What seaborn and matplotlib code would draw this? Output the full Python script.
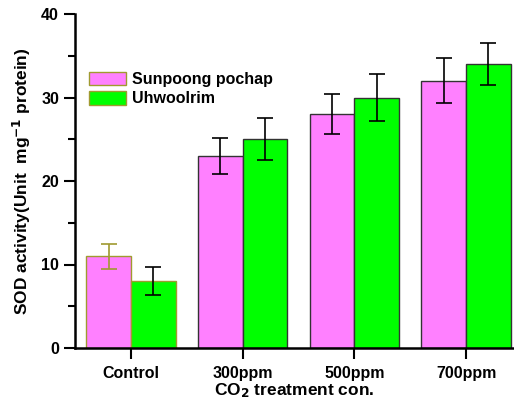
import pandas as pd
import seaborn as sns
import matplotlib.pyplot as plt
from matplotlib.ticker import MultipleLocator

# данные
treatments = ['Control', '300ppm', '500ppm', '700ppm']
cultivars = ['Sunpoong pochap', 'Uhwoolrim']
sunpoong = [11, 23, 28, 32]
uhwoolrim = [8, 25, 30, 34]
sunpoong_err = [1.5, 2.2, 2.4, 2.7]
uhwoolrim_err = [1.7, 2.5, 2.8, 2.5]
colors = ['#FF80FF', '#00FF00']

df = pd.DataFrame({
    'treatment': treatments * 2,
    'cultivar': [cultivars[0]] * 4 + [cultivars[1]] * 4,
    'sod': sunpoong + uhwoolrim,
    'err': sunpoong_err + uhwoolrim_err,
})

plt.rcParams['font.family'] = ['Liberation Sans', 'DejaVu Sans']
plt.rcParams['font.weight'] = 'bold'
plt.rcParams['mathtext.default'] = 'regular'

fig = plt.figure(figsize=(5.14, 4.05), dpi=100)
ax = fig.add_axes([75 / 514, 57 / 405, 438 / 514, 334 / 405])

sns.barplot(data=df, x='treatment', y='sod', hue='cultivar', order=treatments,
            hue_order=cultivars, palette=colors, width=0.8, saturation=1,
            errorbar=None, edgecolor='#333333', linewidth=1.0, ax=ax)

# контроль выделен оливковой рамкой
olive = '#A09A30'
bars = [p for p in ax.patches if p.get_height() > 0]
for i, p in enumerate(bars):
    if i % 4 == 0:
        p.set_edgecolor(olive)

# планки погрешностей
for i, p in enumerate(bars):
    row = df.iloc[i]
    xc = p.get_x() + p.get_width() / 2
    c = olive if i == 0 else 'black'
    ax.errorbar(xc, row['sod'], yerr=row['err'], fmt='none', ecolor=c,
                elinewidth=1.2, capsize=6, capthick=1.2, zorder=5)

ax.set_xlim(-0.5, 3.42)
ax.set_ylim(0, 40)
ax.yaxis.set_major_locator(MultipleLocator(10))
ax.yaxis.set_minor_locator(MultipleLocator(5))
ax.spines['top'].set_visible(False)
ax.spines['right'].set_visible(False)
for s in ['left', 'bottom']:
    ax.spines[s].set_linewidth(1.8)
ax.tick_params(axis='both', which='major', direction='out', length=8, width=1.5,
               labelsize=11.5)
ax.tick_params(axis='x', pad=5)
ax.tick_params(axis='y', which='minor', direction='out', length=5, width=1.5)

ax.set_xlabel('CO$_\\mathbf{2}$ treatment con.', fontsize=12.5, fontweight='bold',
              labelpad=0)
ax.set_ylabel('SOD activity(Unit  mg$^{\\mathbf{-1}}$ protein)', fontsize=12.5,
              fontweight='bold', labelpad=6)

leg = ax.legend(loc='upper left', bbox_to_anchor=(0.018, 0.845), frameon=False,
                fontsize=11.5, handlelength=2.3, handleheight=0.9,
                handletextpad=0.4, labelspacing=0.25, borderaxespad=0)
for h in leg.legend_handles:
    h.set_edgecolor(olive)

plt.savefig('out.png', dpi=100)
